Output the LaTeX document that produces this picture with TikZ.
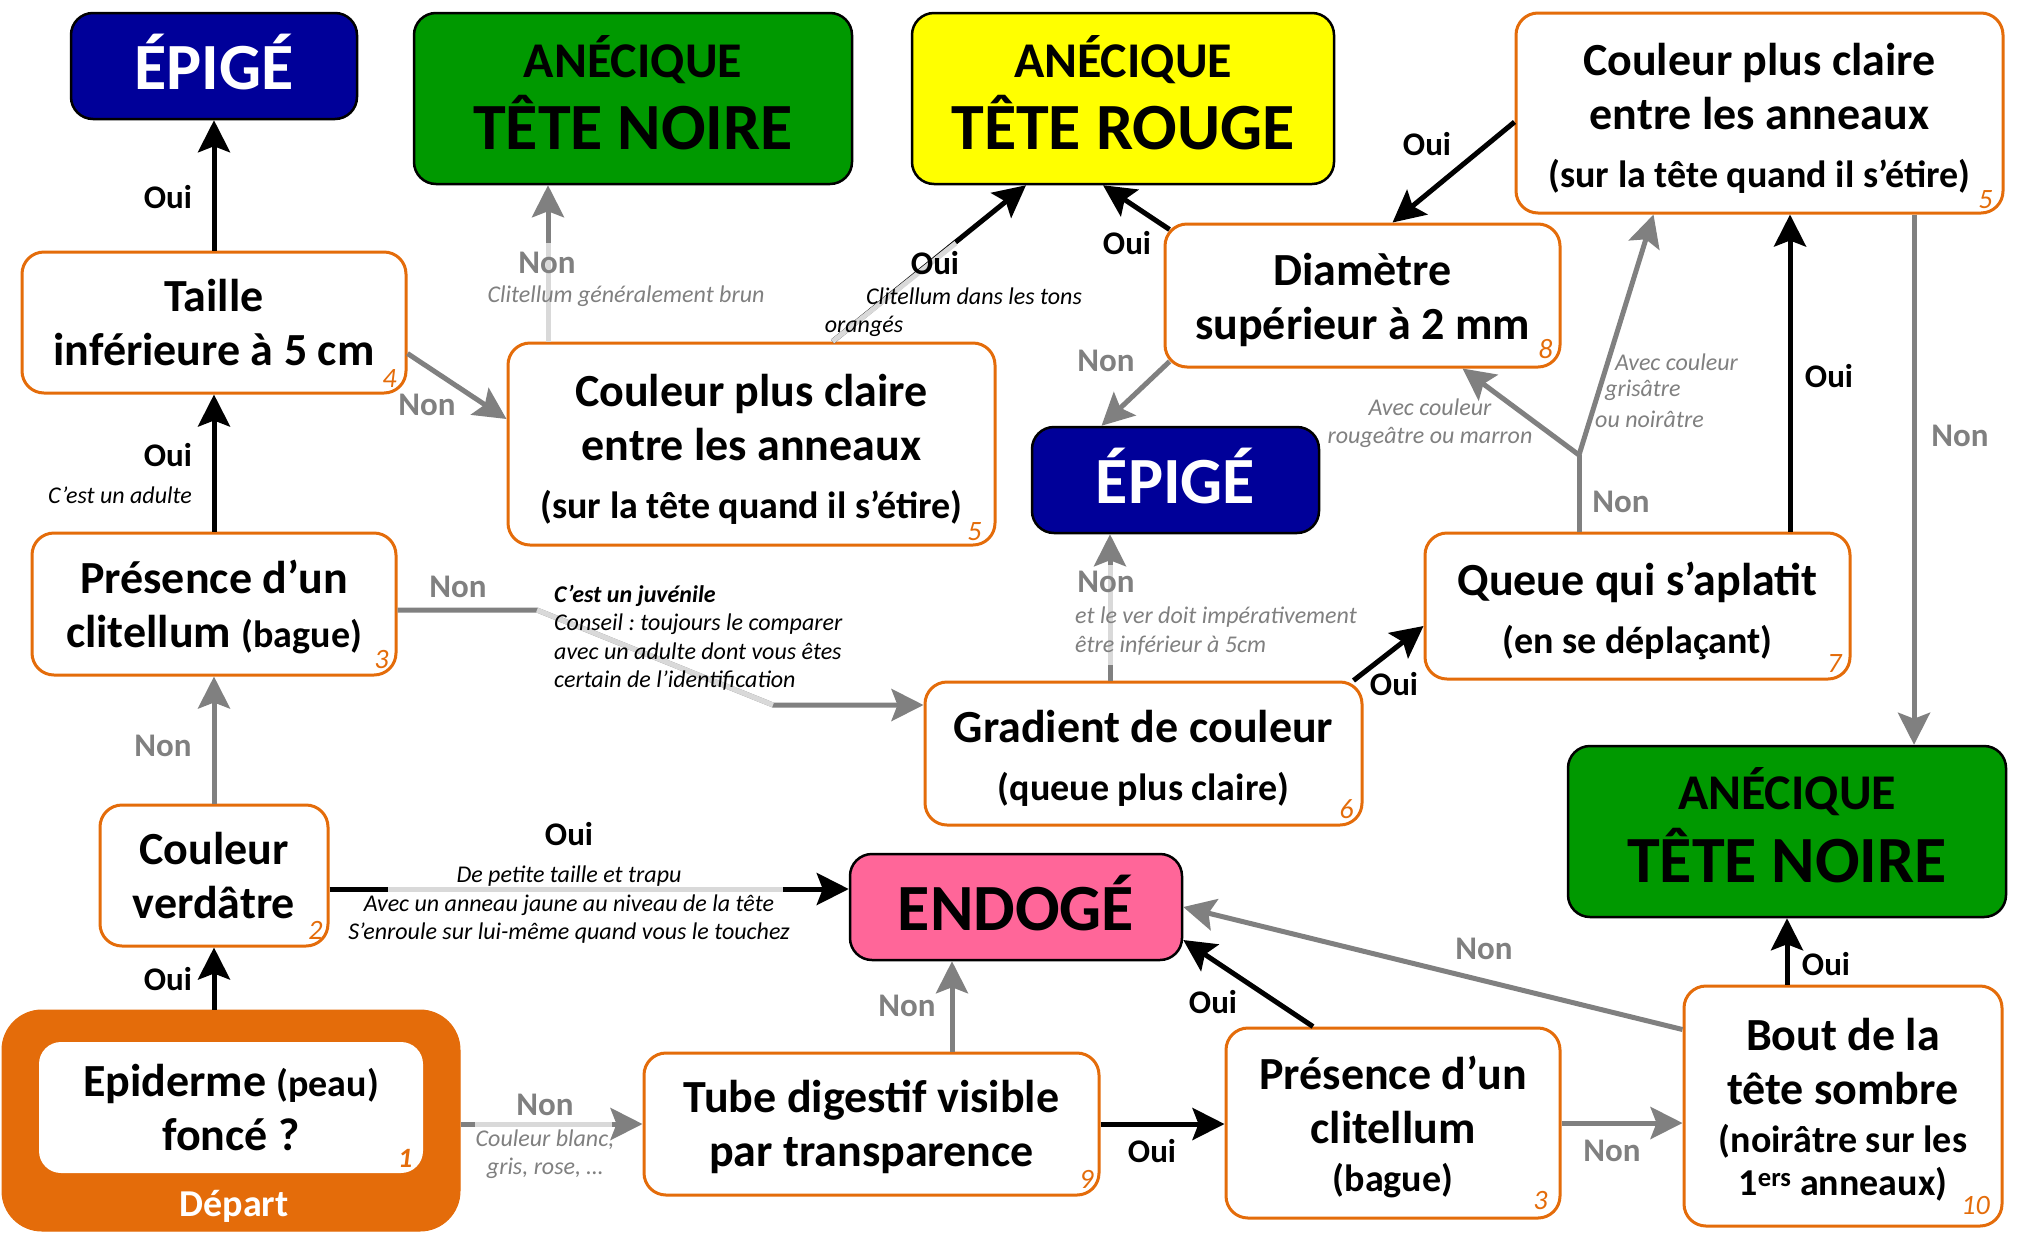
\documentclass[tikz,border=0pt]{standalone}
\usepackage{fontspec}
\setmainfont{Carlito}
\usetikzlibrary{arrows.meta,calc}
\definecolor{orangeC}{RGB}{228,108,10}
\definecolor{blueC}{RGB}{0,0,153}
\definecolor{greenC}{RGB}{0,153,0}
\definecolor{yellowC}{RGB}{255,255,0}
\definecolor{pinkC}{RGB}{255,102,153}
\definecolor{grayC}{RGB}{128,128,128}
\definecolor{lgrayC}{RGB}{217,217,217}
\newcommand\smp[1]{{\fontsize{38}{38}\selectfont #1}}
\newcommand\midl[1]{{\fontsize{50}{50}\selectfont #1}}
\frenchspacing
\begin{document}
\begin{tikzpicture}[x=1pt,y=-1pt,
  qbox/.style={draw=orangeC, line width=3pt, rounded corners=22pt, fill=white, inner sep=0pt},
  qtext/.style={align=center, inner sep=0pt, font=\bfseries\fontsize{46}{54}\selectfont},
  term/.style={draw=black, line width=2.5pt, rounded corners=22pt, inner sep=0pt},
  ttext/.style={align=center, inner sep=0pt, font=\bfseries\fontsize{66}{70}\selectfont},
  arr/.style={line width=5pt, -{Stealth[length=32pt,width=32pt,inset=6pt]}},
  arrB/.style={arr, draw=black},
  arrG/.style={arr, draw=grayC},
  lgr/.style={draw=lgrayC, line width=5pt},
  lblB/.style={font=\bfseries\fontsize{33}{33}\selectfont, inner sep=0pt},
  lblG/.style={lblB, text=grayC},
  noteB/.style={font=\itshape\fontsize{24}{28.5}\selectfont, align=center, inner sep=0pt},
  noteG/.style={noteB, text=grayC},
  num/.style={text=orangeC, font=\itshape\fontsize{28}{28}\selectfont, inner sep=0pt}]
\useasboundingbox (0,0) rectangle (2028,1232);
\fill[white] (0,0) rectangle (2028,1232);

% terminals
\node[term, fill=blueC, minimum width=286, minimum height=106] (epiA) at (214,66) {};
\node[ttext, text=white] (epiAt) at ($(epiA)+(0,-4)$) {ÉPIGÉ};
\node[term, fill=greenC, minimum width=438, minimum height=171] (anoirA) at (633,98.5) {};
\node[ttext] (anoirAt) at ($(anoirA)+(0,-6)$) {\midl{ANÉCIQUE}\\[2pt]TÊTE NOIRE};
\node[term, fill=yellowC, minimum width=422, minimum height=171] (arouge) at (1123,98.5) {};
\node[ttext] (arouget) at ($(arouge)+(0,-6)$) {\midl{ANÉCIQUE}\\[2pt]TÊTE ROUGE};
\node[term, fill=blueC, minimum width=287, minimum height=106] (epiB) at (1175.5,480) {};
\node[ttext, text=white] (epiBt) at ($(epiB)+(0,-4)$) {ÉPIGÉ};
\node[term, fill=greenC, minimum width=438, minimum height=171] (anoirB) at (1787,831.5) {};
\node[ttext] (anoirBt) at ($(anoirB)+(0,-6)$) {\midl{ANÉCIQUE}\\[3pt]TÊTE NOIRE};
\node[term, fill=pinkC, minimum width=332, minimum height=106] (endo) at (1016,907) {};
\node[ttext] (endot) at ($(endo)+(0,-4)$) {ENDOGÉ};

% question boxes
\node[qbox, minimum width=487, minimum height=200] (clairB) at (1759.5,113) {};
\node[qtext] (clairBt) at ($(clairB)+(0,5)$) {Couleur plus claire\\entre les anneaux\\[4pt]\smp{(sur la tête quand il s’étire)}};
\node[qbox, minimum width=384, minimum height=141] (taille) at (214,322.5) {};
\node[qtext] (taillet) at (taille) {Taille\\inférieure à 5 cm};
\node[qbox, minimum width=487, minimum height=202] (clairA) at (751.5,444) {};
\node[qtext] (clairAt) at ($(clairA)+(0,5)$) {Couleur plus claire\\entre les anneaux\\[4pt]\smp{(sur la tête quand il s’étire)}};
\node[qbox, minimum width=395, minimum height=143] (diam) at (1362.5,295.5) {};
\node[qtext] (diamt) at ($(diam)+(0,4)$) {Diamètre\\supérieur à 2 mm};
\node[qbox, minimum width=364, minimum height=142] (presA) at (214,604) {};
\node[qtext] (presAt) at ($(presA)+(0,3)$) {Présence d’un\\clitellum \smp{(bague)}};
\node[qbox, minimum width=425, minimum height=146] (queue) at (1637.5,606) {};
\node[qtext] (queuet) at ($(queue)+(0,5)$) {Queue qui s’aplatit\\[4pt]\smp{(en se déplaçant)}};
\node[qbox, minimum width=437, minimum height=143] (grad) at (1143.5,753.5) {};
\node[qtext] (gradt) at ($(grad)+(0,5)$) {Gradient de couleur\\[4pt]\smp{(queue plus claire)}};
\node[qbox, minimum width=228, minimum height=141] (verd) at (214,875.5) {};
\node[qtext] (verdt) at (verd) {Couleur\\verdâtre};
\node[draw=orangeC, fill=orangeC, line width=1pt, rounded corners=40pt, minimum width=458, minimum height=221, inner sep=0pt] (depart) at (231,1120.5) {};
\node[fill=white, rounded corners=22pt, minimum width=384, minimum height=131, inner sep=0pt] (dinner) at (231,1107.5) {};
\node[qtext] (dinnert) at (dinner) {Epiderme \smp{(peau)}\\foncé ?};
\node[qbox, minimum width=455, minimum height=142] (tube) at (871.5,1124) {};
\node[qtext] (tubet) at ($(tube)+(0,3)$) {Tube digestif visible\\par transparence};
\node[qbox, minimum width=334, minimum height=190] (presB) at (1393,1123) {};
\node[qtext] (presBt) at ($(presB)+(0,4)$) {Présence d’un\\clitellum\\[-6pt]\smp{(bague)}};
\node[qbox, minimum width=318, minimum height=240] (bout) at (1843,1106) {};
\node[qtext] (boutt) at ($(bout)+(0,4)$) {Bout de la\\tête sombre\\[-6pt]\smp{(noirâtre sur les}\\[-11pt]\smp{1\textsuperscript{ers} anneaux)}};
\node[text=white, font=\bfseries\fontsize{38}{38}\selectfont, inner sep=0pt] (dep) at (234,1206) {Départ};

% numbers
\node[num, font=\bfseries\itshape\fontsize{28}{28}\selectfont] (n1) at ($(dinner.south east)+(-18,-15)$) {1};
\node[num] (n2) at ($(verd.south east)+(-14,-17)$) {2};
\node[num] (n3a) at ($(presA.south east)+(-16,-17)$) {3};
\node[num] (n4) at ($(taille.south east)+(-18,-16)$) {4};
\node[num] (n5a) at ($(clairA.south east)+(-22,-15)$) {5};
\node[num] (n5b) at ($(clairB.south east)+(-19,-15)$) {5};
\node[num] (n6) at ($(grad.south east)+(-17,-17)$) {6};
\node[num] (n7) at ($(queue.south east)+(-17,-17)$) {7};
\node[num] (n8) at ($(diam.south east)+(-16,-19)$) {8};
\node[num] (n9) at ($(tube.south east)+(-14,-17)$) {9};
\node[num] (n3b) at ($(presB.south east)+(-21,-19)$) {3};
\node[num] (n10) at ($(bout.south east)+(-28,-22)$) {10};

% connectors
\draw[arrB] (taille.north) -- (epiA.south);
\draw[arrB] (presA.north) -- (taille.south);
\draw[arrG] (verd.north) -- (presA.south);
\draw[arrB] (depart.north -| verd.south) -- (verd.south);
\coordinate (yE) at (0,889);
\draw[arrB] (verd.east |- yE) -- (endo.west |- yE);
\draw[lgr] (388,889) -- (783,889);
\draw[arrG] (depart.east |- tube.west) -- (tube.west);
\draw[lgr] (475,1124) -- (612,1124);
\coordinate (xG) at (952,0);
\draw[arrG] (tube.north -| xG) -- (endo.south -| xG);
\draw[arrB] (tube.east) -- (tube.east -| presB.west);
\draw[arrB] ($(presB.north)+(-80,0)$) -- ($(endo.east)+(0,33)$);
\draw[arrG] (presB.east) -- (presB.east -| bout.west);
\draw[arrG] ($(bout.north west)+(0,45)$) -- (endo.east);
\draw[arrB] (bout.north -| anoirB.south) -- (anoirB.south);
\coordinate (xM) at (1914,0);
\draw[arrG] (clairB.south -| xM) -- (anoirB.north -| xM);
\coordinate (xN) at (1790,0);
\draw[arrB] (queue.north -| xN) -- (clairB.south -| xN);
\coordinate (split) at (1579,455);
\draw[grayC, line width=5pt] (queue.north -| split) -- (split);
\draw[arrG] (split) -- ($(diam.south)+(100,0)$);
\draw[arrG] (split) -- ($(clairB.south)+(-106,0)$);
\draw[arrB] ($(clairB.west)+(0,9)$) -- ($(diam.north)+(30,0)$);
\draw[arrB] ($(diam.north west)+(6,7)$) -- ($(arouge.south)+(-20,0)$);
\draw[arrG] ($(diam.south west)+(6,-7)$) -- ($(epiB.north)+(-74,0)$);
\coordinate (xS) at (1110,0);
\draw[arrG] (grad.north -| xS) -- (epiB.south -| xS);
\draw[lgr] (1110,565) -- (1110,665);
\draw[arrB] ($(grad.north east)+(-10,0)$) -- ($(queue.west)+(0,20)$);
\coordinate (u1) at (537,610);
\coordinate (u2) at (773,705);
\draw[arrG] ($(presA.east)+(0,6)$) -- (u1) -- (u2) -- (grad.west |- u2);
\draw[lgr] (u1) -- (u2);
\coordinate (xV) at (548,0);
\coordinate (v1) at (548,243);
\draw[arrG] (clairA.north -| xV) -- (anoirA.south -| xV);
\draw[lgr] (v1) -- (clairA.north -| xV);
\coordinate (w1) at (956,243);
\draw[arrB] ($(clairA.north)+(81,0)$) -- ($(arouge.south)+(-97,0)$);
\draw[lgr] ($(clairA.north)+(81,0)$) -- (w1);
\draw[arrG] ($(taille.east)+(0,31)$) -- ($(clairA.west)+(0,-25)$);

% labels
\node[lblB] (la) at (168,197) {Oui};
\node[lblB] (lb) at (168,455) {Oui};
\node[noteB] (nb) at (120,495) {C’est un adulte};
\node[lblG] (lc) at (163,746) {Non};
\node[lblB] (ld) at (168,979) {Oui};
\node[lblB] (le) at (569,834) {Oui};
\node[noteB] (ne) at (569,905) {De petite taille et trapu\\Avec un anneau jaune au niveau de la tête\\S’enroule sur lui-même quand vous le touchez};
\node[lblG] (lf) at (545,1105) {Non};
\node[noteG] (nf) at (545,1154) {Couleur blanc,\\gris, rose, …};
\node[lblG] (lg) at (907,1006) {Non};
\node[lblB] (lh) at (1152,1151) {Oui};
\node[lblB] (li) at (1213,1002) {Oui};
\node[lblG] (lj) at (1612,1151) {Non};
\node[lblG] (lk) at (1484,949) {Non};
\node[lblB] (ll) at (1826,964) {Oui};
\node[lblG] (lm) at (1960,436) {Non};
\node[lblB] (ln) at (1829,376) {Oui};
\node[lblG] (lo) at (1621,502) {Non};
\node[noteG] (no1) at (1430,423) {Avec couleur\\rougeâtre ou marron};
\node[noteG, anchor=west] (no2) at (1615,362) {Avec couleur};
\node[noteG, anchor=west] (no3) at (1605,390) {grisâtre};
\node[noteG, anchor=west] (no4) at (1595,419) {ou noirâtre};
\node[lblB] (lp) at (1427,144) {Oui};
\node[lblB] (lq) at (1127,243) {Oui};
\node[lblG] (lr) at (1106,361) {Non};
\node[lblG] (ls) at (1106,582) {Non};
\node[noteG, anchor=west, align=left] (ns) at (1075,631) {et le ver doit impérativement\\être inférieur à 5cm};
\node[lblB] (lt) at (1394,684) {Oui};
\node[lblG] (lu) at (458,587) {Non};
\node[noteB, anchor=west, align=left] (nu) at (554,638) {\textbf{C’est un juvénile}\\Conseil : toujours le comparer\\avec un adulte dont vous êtes\\certain de l’identification};
\node[lblG] (lv) at (547,263) {Non};
\node[noteG] (nv) at (626,296) {Clitellum généralement brun};
\node[lblB] (lw) at (935,263) {Oui};
\node[noteB] (nw1) at (974,296) {Clitellum dans les tons};
\node[noteB] (nw2) at (864,326) {orangés};
\node[lblG] (lx) at (427,405) {Non};
\end{tikzpicture}
\end{document}
